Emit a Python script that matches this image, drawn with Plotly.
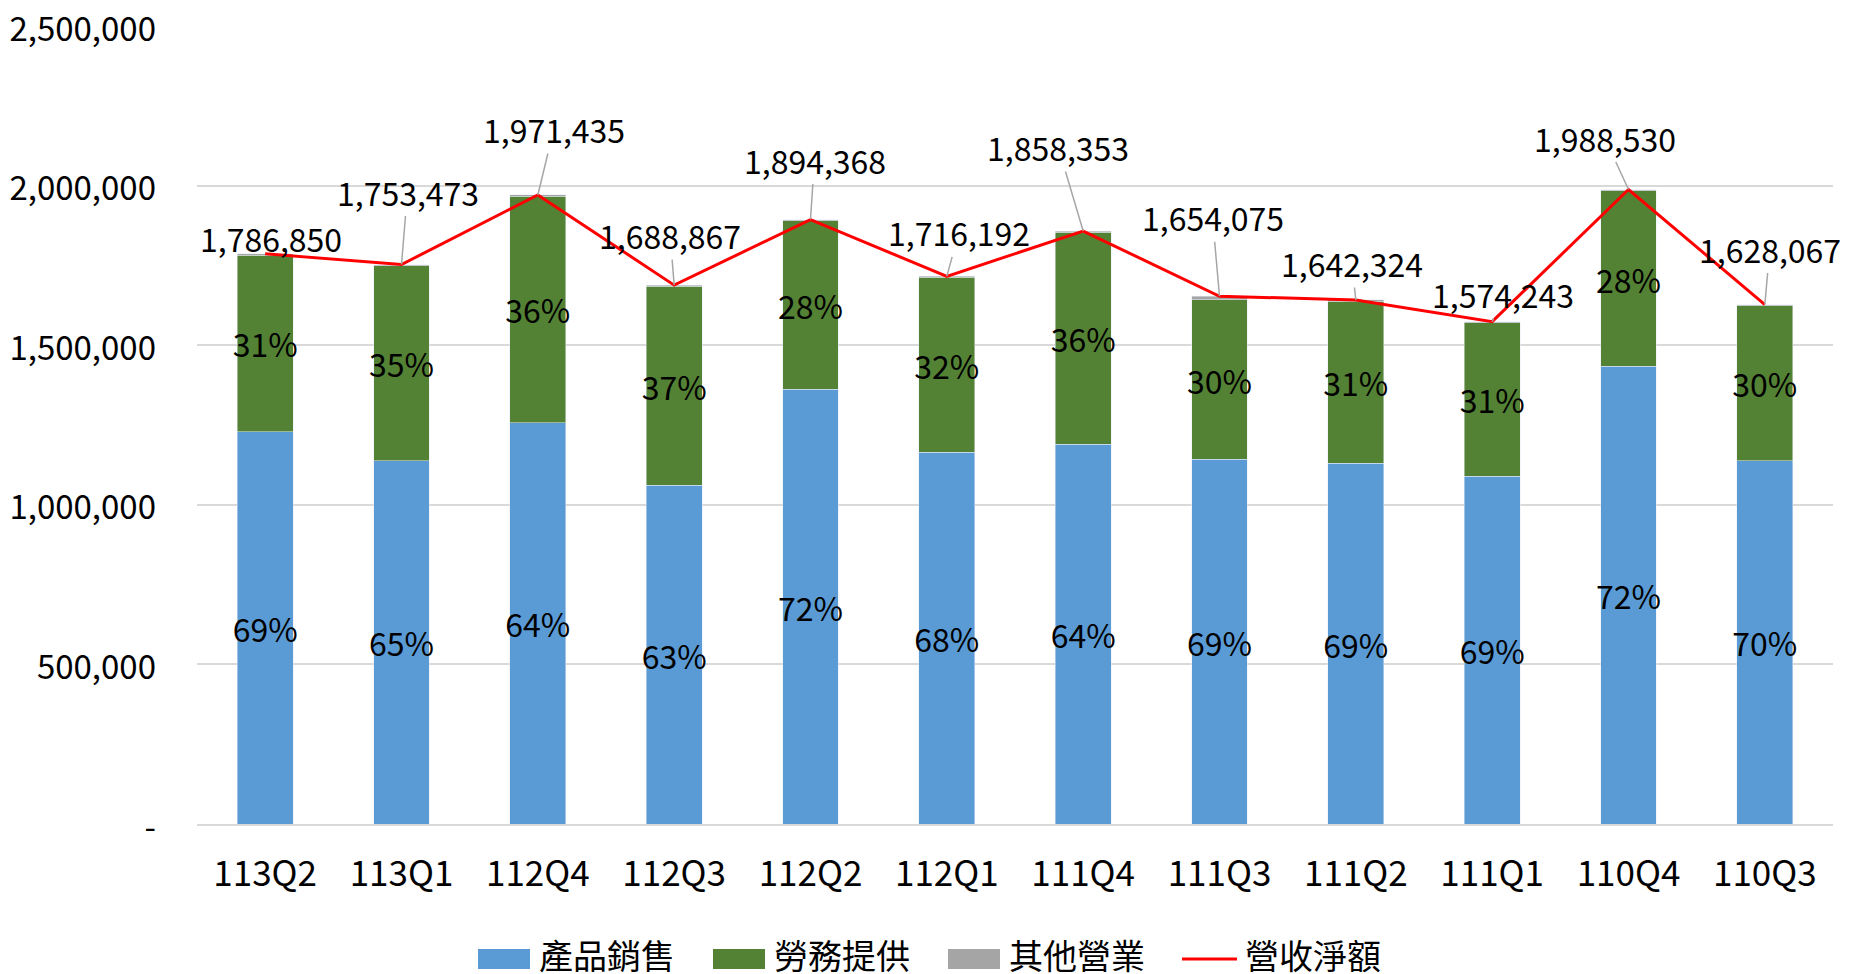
import plotly.graph_objects as go

# quarterly revenue breakdown
quarters = ["113Q2", "113Q1", "112Q4", "112Q3", "112Q2", "112Q1",
            "111Q4", "111Q3", "111Q2", "111Q1", "110Q4", "110Q3"]
total = [1786850, 1753473, 1971435, 1688867, 1894368, 1716192,
         1858353, 1654075, 1642324, 1574243, 1988530, 1628067]
product = [1229000, 1138000, 1258000, 1062000, 1362000, 1165000,
           1190000, 1143000, 1130000, 1090000, 1434000, 1139000]
service = [554000, 612000, 709000, 623000, 529000, 548000,
           665000, 500000, 509000, 481000, 551000, 486000]
other = [3850, 3473, 4435, 3867, 3368, 3192,
         3353, 11075, 3324, 3243, 3530, 3067]

series_names = ["產品銷售", "勞務提供", "其他營業", "營收淨額"]
series_colors = ["#5b9bd5", "#548235", "#a5a5a5", "#ff0000"]

# label offsets for the total labels (pixels)
label_dx = [6, 6, 16, -4, 4, 12, -25, -7, -4, 11, -24, 5]
label_dy = [-16, -73, -66, -50, -60, -44, -84, -79, -37, -28, -52, -56]

yticks = [0, 500000, 1000000, 1500000, 2000000, 2500000]
yticktext = ["-", "500,000", "1,000,000", "1,500,000", "2,000,000", "2,500,000"]

FONT = "Noto Sans CJK TC"

prod_pct = [f"{round(p / t * 100)}%" for p, t in zip(product, total)]
serv_pct = [f"{round(s / t * 100)}%" for s, t in zip(service, total)]

fig = go.Figure()
fig.add_trace(go.Bar(x=quarters, y=product, name=series_names[0],
                     marker=dict(color=series_colors[0]),
                     text=prod_pct, textposition="inside", textangle=0,
                     insidetextanchor="middle", constraintext="none",
                     textfont=dict(color="black", size=32, family=FONT)))
fig.add_trace(go.Bar(x=quarters, y=service, name=series_names[1],
                     marker=dict(color=series_colors[1]),
                     text=serv_pct, textposition="inside", textangle=0,
                     insidetextanchor="middle", constraintext="none",
                     textfont=dict(color="black", size=32, family=FONT)))
fig.add_trace(go.Bar(x=quarters, y=other, name=series_names[2],
                     marker=dict(color=series_colors[2])))
fig.add_trace(go.Scatter(x=quarters, y=total, name=series_names[3], mode="lines",
                         line=dict(color=series_colors[3], width=3)))

for q, t, dx, dy in zip(quarters, total, label_dx, label_dy):
    fig.add_annotation(x=q, y=t, text=f"{t:,}", showarrow=True,
                       arrowhead=0, arrowwidth=1.5, arrowcolor="#a6a6a6",
                       ax=dx, ay=dy, standoff=0,
                       font=dict(size=32, color="black", family=FONT))

# hand-made legend below the axis (page pixels -> paper coords)
PL, PR, PT, PB = 197, 1833, 26, 824


def px(x):
    return (x - PL) / (PR - PL)


def py(y):
    return (PB - y) / (PB - PT)


legend_x = [478, 713, 948, 1182]
for i, (name, col, x0) in enumerate(zip(series_names, series_colors, legend_x)):
    if i < 3:
        fig.add_shape(type="rect", xref="paper", yref="paper",
                      x0=px(x0), x1=px(x0 + 52), y0=py(969), y1=py(949),
                      fillcolor=col, line=dict(width=0))
    else:
        fig.add_shape(type="line", xref="paper", yref="paper",
                      x0=px(x0), x1=px(x0 + 55), y0=py(959), y1=py(959),
                      line=dict(color=col, width=3))
    text_x = x0 + 59 if i < 3 else x0 + 61
    fig.add_annotation(x=px(text_x), y=py(955), xref="paper", yref="paper",
                       text=name, showarrow=False, xanchor="left",
                       yanchor="middle",
                       font=dict(size=34, color="black", family=FONT))

fig.update_layout(
    barmode="stack",
    bargap=0.59,
    width=1857, height=974,
    margin=dict(l=189, r=32, t=18, b=158),
    plot_bgcolor="white", paper_bgcolor="white",
    font=dict(family=FONT, size=32, color="black"),
    showlegend=False,
)
fig.update_xaxes(range=[-0.5, len(quarters) - 0.5],
                 showline=True, linecolor="#d9d9d9", linewidth=1.5,
                 ticks="", ticklabelstandoff=18, automargin=False,
                 tickfont=dict(size=35, family=FONT))
fig.update_yaxes(range=[0, 2501000], tickvals=yticks, ticktext=yticktext,
                 showgrid=True, gridcolor="#d9d9d9", gridwidth=1.5,
                 zeroline=False, ticks="", ticklabelstandoff=40,
                 automargin=False, ticklabeloverflow="allow",
                 ticklabelshift=3,
                 tickfont=dict(size=33, family=FONT))

fig.write_html("out.html")
